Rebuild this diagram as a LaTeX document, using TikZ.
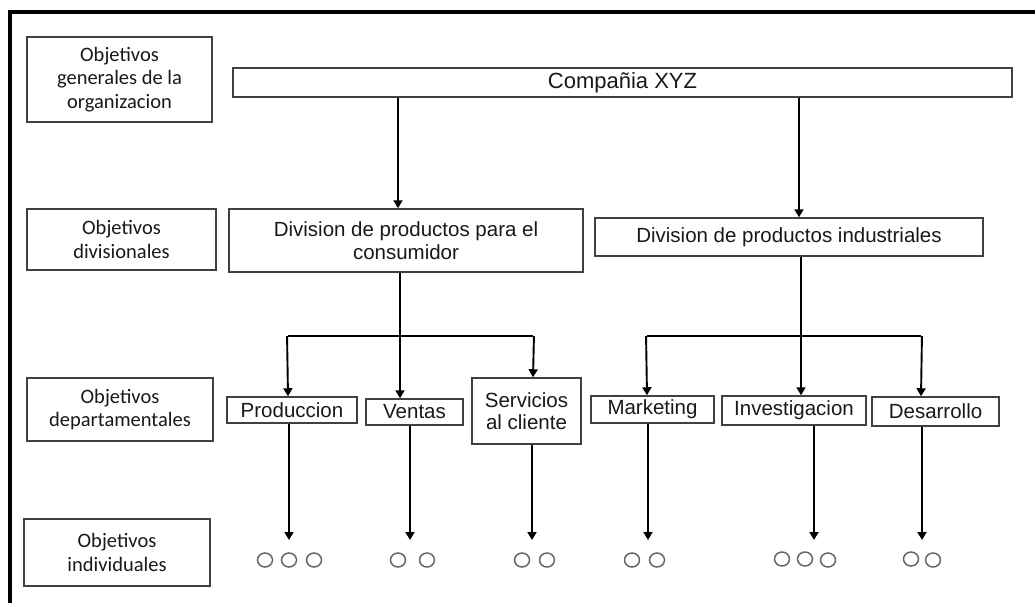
\documentclass[tikz,border=0pt]{standalone}
\usepackage{fontspec}
\setmainfont{Liberation Sans}
\newfontfamily\calfont{Carlito}
\usetikzlibrary{arrows.meta,shapes.geometric}
\begin{document}
\begin{tikzpicture}[x=1pt,y=-1pt,
  lbl/.style={draw=black!75,line width=1.5pt,inner sep=0pt,align=center,text=black!90,font=\calfont\fontsize{20.5}{23.5}\selectfont},
  box/.style={draw=black!75,line width=1.5pt,inner sep=0pt,align=center,text=black!90,font=\fontsize{20.5}{22.5}\selectfont},
  arr/.style={line width=1.9pt,-{Triangle[length=8pt,width=9pt]}},
  lin/.style={line width=1.9pt},
  oc/.style={draw=black!60,line width=1.5pt,ellipse,minimum width=15pt,minimum height=14pt,inner sep=0pt}]
\useasboundingbox (0,0) rectangle (1035,603);
\fill[white] (0,0) rectangle (1035,603);
% frame
\draw[line width=4pt,line join=miter] (10,603) -- (10,12) -- (1035,12);
% left labels
\node[lbl,minimum width=185pt,minimum height=85pt] (gen) at (119.5,79.5) {Objetivos\\generales de la\\organizacion};
\node[lbl,minimum width=189pt,minimum height=61pt] (div) at (121.5,239.5) {Objetivos\\divisionales};
\node[lbl,minimum width=186pt,minimum height=63pt] (dep) at (120,409.5) {Objetivos\\departamentales};
\node[lbl,minimum width=186pt,minimum height=67pt] (ind) at (117,552.5) {Objetivos\\individuales};
% main boxes
\node[box,minimum width=779pt,minimum height=29pt,font=\fontsize{22}{24}\selectfont] (xyz) at (622.5,82.5) {Compañia XYZ};
\node[box,minimum width=354pt,minimum height=63pt] (dc) at (406,240.5) {Division de productos para el\\consumidor};
\node[box,minimum width=388pt,minimum height=38pt] (di) at (789,237) {Division de productos industriales};
\node[box,minimum width=130pt,minimum height=26pt] (prod) at (292,410) {Produccion};
\node[box,minimum width=97pt,minimum height=26pt] (ven) at (414.5,412) {Ventas};
\node[box,minimum width=109pt,minimum height=66pt] (ser) at (526.5,411) {Servicios\\al cliente};
\node[box,minimum width=123pt,minimum height=27pt] (mkt) at (652.5,409.5) {Marketing};
\node[box,minimum width=144pt,minimum height=29pt] (inv) at (794,410.5) {Investigacion};
\node[box,minimum width=127pt,minimum height=29pt] (des) at (935.5,411.5) {Desarrollo};
% circles
\node[oc] (p1) at (265,560) {};
\node[oc] (p2) at (289,560) {};
\node[oc] (p3) at (314,560) {};
\node[oc] (v1) at (398,560) {};
\node[oc] (v2) at (427,560) {};
\node[oc] (s1) at (522,560) {};
\node[oc] (s2) at (547,560) {};
\node[oc] (m1) at (632,560) {};
\node[oc] (m2) at (657,560) {};
\node[oc] (i1) at (782,559) {};
\node[oc] (i2) at (805,559) {};
\node[oc] (i3) at (828,560) {};
\node[oc] (d1) at (911,559) {};
\node[oc] (d2) at (933,560) {};
% helper coordinates
\coordinate (c1) at (398,0);
\coordinate (c2) at (799,0);
\coordinate (c3) at (400,0);
\coordinate (c4) at (801,0);
\coordinate (bl) at (288,336);
\coordinate (br) at (533,336);
\coordinate (il) at (647,336);
\coordinate (ir) at (921,336);
\coordinate (t1) at (289,540);
\coordinate (t2) at (410,540);
\coordinate (t3) at (532,540);
\coordinate (t4) at (648,540);
\coordinate (t5) at (814,540);
\coordinate (t6) at (922,540);
% connectors
\draw[arr] (xyz.south -| c1) -- (dc.north -| c1);
\draw[arr] (xyz.south -| c2) -- (di.north -| c2);
\draw[arr] (dc.south -| c3) -- (ven.north -| c3);
\draw[lin] (bl) -- (br);
\draw[arr] ([xshift=-0.95pt]bl) -- (prod.north -| bl);
\draw[arr] ([xshift=0.95pt]br) -- (ser.north -| br);
\draw[arr] (di.south -| c4) -- (inv.north -| c4);
\draw[lin] (il) -- (ir);
\draw[arr] ([xshift=-0.95pt]il) -- (mkt.north -| il);
\draw[arr] ([xshift=0.95pt]ir) -- (des.north -| ir);
\draw[arr] (prod.south -| t1) -- (t1);
\draw[arr] (ven.south -| t2) -- (t2);
\draw[arr] (ser.south -| t3) -- (t3);
\draw[arr] (mkt.south -| t4) -- (t4);
\draw[arr] (inv.south -| t5) -- (t5);
\draw[arr] (des.south -| t6) -- (t6);
\end{tikzpicture}
\end{document}
